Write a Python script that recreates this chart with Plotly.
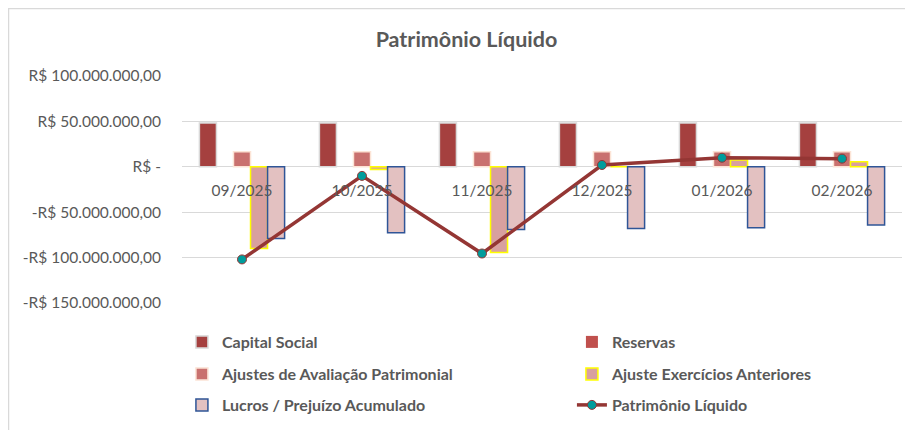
import plotly.graph_objects as go

meses = ["09/2025", "10/2025", "11/2025", "12/2025", "01/2026", "02/2026"]
capital_social = [48.2e6, 48.2e6, 48.2e6, 48.2e6, 48.2e6, 48.2e6]
reservas = [0, 0, 0, 0, 0, 0]
ajustes_aval = [16.5e6, 16.5e6, 16.5e6, 16.5e6, 16.5e6, 16.5e6]
ajuste_exerc = [-90e6, -3e6, -94.5e6, 0, 7.5e6, 5.5e6]
lucros_prej = [-79e6, -72.5e6, -69e6, -68e6, -67e6, -64e6]
patrimonio = [-102e6, -10e6, -95.5e6, 2e6, 10e6, 9e6]

y_tickvals = [100e6, 50e6, 0, -50e6, -100e6, -150e6]
y_ticktext = ["R$ 100.000.000,00", "R$ 50.000.000,00", "R$ -",
              "-R$ 50.000.000,00", "-R$ 100.000.000,00", "-R$ 150.000.000,00"]

W, H = 913, 430
L, R, T, B = 174, 19, 68, 135
PW, PH = W - L - R, H - T - B
gray = "#595959"
font_fam = "Lato, 'Open Sans', sans-serif"

fig = go.Figure()
fig.add_trace(go.Bar(name="Capital Social", x=meses, y=capital_social,
                     marker=dict(color="#A5403F", line=dict(color="#D9D9D9", width=1.5)),
                     legend="legend"))
fig.add_trace(go.Bar(name="Reservas", x=meses, y=reservas,
                     marker=dict(color="#C0504D", line=dict(width=0)),
                     legend="legend"))
fig.add_trace(go.Bar(name="Ajustes de Avaliação Patrimonial", x=meses, y=ajustes_aval,
                     marker=dict(color="#C9716F", line=dict(color="#FCE4D6", width=1.5)),
                     legend="legend2"))
fig.add_trace(go.Bar(name="Ajuste Exercícios Anteriores", x=meses, y=ajuste_exerc,
                     marker=dict(color="#D8A09F", line=dict(color="#FFFF00", width=1.5)),
                     legend="legend2"))
fig.add_trace(go.Bar(name="Lucros / Prejuízo Acumulado", x=meses, y=lucros_prej,
                     marker=dict(color="#E3C1C1", line=dict(color="#2F5597", width=1.5)),
                     legend="legend3"))
fig.add_trace(go.Scatter(name="Patrimônio Líquido", x=meses, y=patrimonio,
                         mode="lines+markers",
                         line=dict(color="#943634", width=3.5),
                         marker=dict(color="#009C9C", size=9, line=dict(color="#943634", width=1)),
                         legend="legend3"))

def leg(ypx):
    return dict(orientation="h", x=-0.0001, xanchor="left",
                y=(H - B - ypx) / PH, yanchor="middle",
                entrywidth=345, entrywidthmode="pixels",
                font=dict(family=font_fam, size=16, color=gray, weight="bold"),
                bgcolor="rgba(0,0,0,0)", traceorder="normal")

fig.update_layout(
    width=W, height=H,
    margin=dict(l=L, r=R, t=T, b=B, autoexpand=False),
    paper_bgcolor="white", plot_bgcolor="white",
    barmode="group", bargap=0.29, bargroupgap=0,
    title=dict(text="<b>Patrimônio Líquido</b>", x=458.5 / W, xanchor="center",
               y=1 - 31 / H, yanchor="middle",
               font=dict(family=font_fam, size=21.5, color=gray)),
    font=dict(family=font_fam, color=gray),
    legend=leg(334), legend2=leg(366), legend3=leg(397),
    xaxis=dict(anchor="free", position=0.6, showgrid=False, showline=False,
               zeroline=False, ticks="outside", ticklen=10,
               tickcolor="rgba(0,0,0,0)",
               tickfont=dict(family=font_fam, size=15.5, color=gray)),
    yaxis=dict(range=[-150e6, 100e6], tickvals=y_tickvals, ticktext=y_ticktext,
               showgrid=True, gridcolor="#D9D9D9", gridwidth=1,
               zeroline=True, zerolinecolor="#D9D9D9", zerolinewidth=1,
               showline=False, ticks="", ticklabelstandoff=20,
               tickfont=dict(family=font_fam, size=15.5, color=gray)),
    shapes=[dict(type="rect", xref="paper", yref="paper",
                 x0=(0.5 - L) / PW, x1=(W + 10 - L) / PW,
                 y0=(H - B - (H + 10)) / PH, y1=(H - B - 0.5) / PH,
                 line=dict(color="#D9D9D9", width=1.5), fillcolor="rgba(0,0,0,0)",
                 layer="below")],
)

fig.write_html("out.html")
